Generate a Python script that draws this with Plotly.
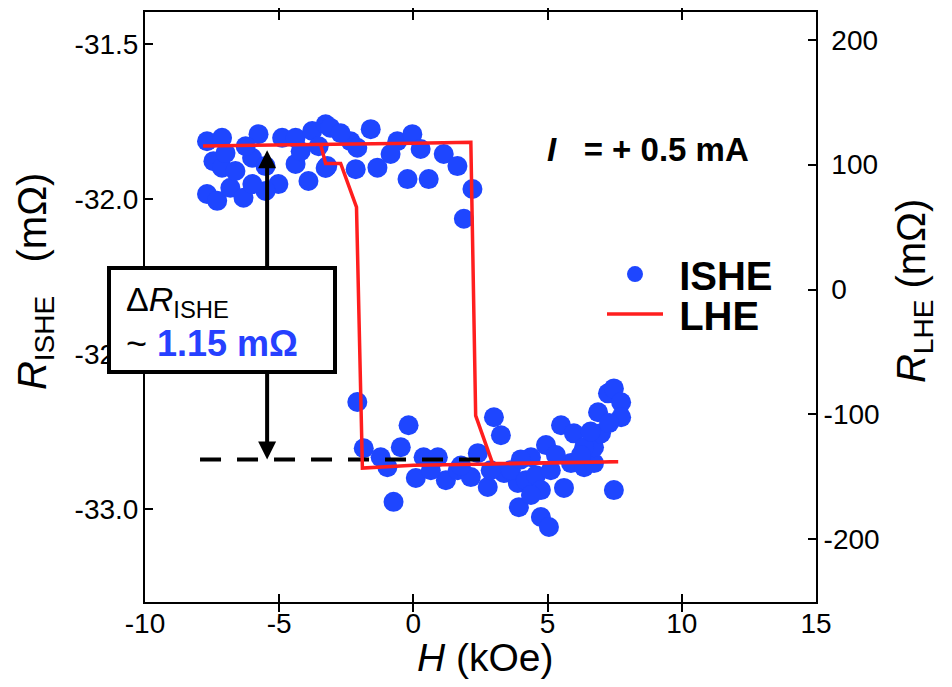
import plotly.graph_objects as go

# ---------------- data ----------------
# ISHE (left axis, mOhm) vs H (kOe)
ishe_h = [-7.69, -7.13, -7.45, -7.13, -7.69, -7.31, -6.82, -6.33, -5.77, -6.01,
          -6.63, -4.89, -4.39, -5.03, -5.51, -4.39, -3.91, -3.77, -3.27, -3.10,
          -1.59, -3.21, -2.34, -2.09, -2.15, -1.34, -0.60, -0.04, 0.27, -0.22,
          0.57, 1.13, 1.64, 2.20, 1.88, -0.85, -2.71, -4.20, -3.53, -3.27,
          -6.25, -5.51, -7.00, -6.00,
          -2.09, -1.85, -1.22, -0.97, -0.47, -0.18, -0.74, 0.09, 0.38, 0.91,
          1.21, 1.65, 2.40, 3.00, 3.26, 2.77, 2.14, 3.37, 3.89, 3.93,
          4.38, 4.75, 5.05, 4.94, 5.50, 5.61, 5.98, 5.87, 6.36, 6.73,
          6.73, 6.99, 6.88, 7.25, 7.47, 7.74, 7.74, 7.29, 7.47, 6.36,
          3.63, 4.19, 4.57, 5.12, 4.00, 2.88, 1.77, 0.65, 5.31, 4.75,
          4.38, 6.24, 6.60]
ishe_r = [-31.814, -31.803, -31.878, -31.899, -31.984, -32.006, -31.964, -31.996, -31.791, -31.867,
          -31.910, -31.803, -31.803, -31.952, -31.974, -31.887, -31.942, -31.781, -31.759, -31.770,
          -31.775, -31.894, -31.814, -31.835, -31.904, -31.899, -31.814, -31.791, -31.839, -31.936,
          -31.936, -31.855, -31.894, -31.968, -32.064, -31.855, -31.788, -31.846, -31.830, -31.900,
          -31.830, -31.894, -31.852, -31.952,
          -32.655, -32.804, -32.833, -32.865, -32.801, -32.730, -32.977, -32.900, -32.833, -32.833,
          -32.907, -32.875, -32.820, -32.704, -32.762, -32.929, -32.897, -32.884, -32.916, -32.994,
          -32.833, -33.026, -33.058, -32.794, -32.730, -32.932, -32.756, -32.852, -32.865, -32.852,
          -32.801, -32.756, -32.688, -32.627, -32.611, -32.656, -32.704, -32.723, -32.939, -32.801,
          -32.875, -32.907, -32.891, -32.875, -32.840, -32.875, -32.860, -32.875, -32.826, -32.939,
          -32.955, -32.826, -32.750]

# LHE (right axis, mOhm) hysteresis loop
lhe_h = [-7.84, -5.0, -3.46, 0.0, 2.14, 2.32, 2.95, 5.0, 7.63,
         5.0, 2.0, 0.0, -1.9, -2.12, -2.71, -3.27, -3.46]
lhe_r = [115.0, 115.6, 116.5, 117.2, 118.0, -101.0, -139.3, -138.6, -138.0,
         -138.6, -139.8, -140.8, -143.0, 66.0, 101.0, 101.0, 116.5]

# reference level (dashed) and arrow
low_level = -32.84
high_level = -31.838
dash_h = [-7.95, 2.6]
arrow_h = -5.45

x_ticks = [-10, -5, 0, 5, 10, 15]
x_ticktext = ["-10", "-5", "0", "5", "10", "15"]
y_ticks = [-31.5, -32.0, -32.5, -33.0]
y_ticktext = ["-31.5", "-32.0", "-32.5", "-33.0"]
y2_ticks = [200, 100, 0, -100, -200]
y2_ticktext = ["\u00a0200", "\u00a0100", "\u00a00", "-100", "-200"]

FONT = "Liberation Sans, Arial, Helvetica, sans-serif"
BLUE = "#1e46ff"
RED = "#ff1e1e"

# page body has an 8px margin: plot area target (page px) 145..816 x 10..602
W, H = 944, 679
L, T = 145 - 8, 10 - 8
R = W - (816 - 8)
B = H - (602 - 8)


def px(xp):
    return (xp - 145) / 671


def py(yp):
    return (602 - yp) / 592


fig = go.Figure()

fig.add_trace(go.Scatter(
    x=ishe_h, y=ishe_r, mode="markers", name="&nbsp;<b>ISHE</b>",
    marker=dict(size=20, color=BLUE, line=dict(width=0)),
    legend="legend", yaxis="y"))

fig.add_trace(go.Scatter(
    x=dash_h, y=[low_level, low_level], mode="lines", showlegend=False,
    line=dict(color="black", width=4, dash="21px,16px"), yaxis="y"))

fig.add_trace(go.Scatter(
    x=lhe_h, y=lhe_r, mode="lines", name="&nbsp;<b>LHE</b>",
    line=dict(color=RED, width=3.5), legend="legend2", yaxis="y2"))

axis_common = dict(showline=True, linecolor="black", linewidth=2,
                   ticks="inside", ticklen=8, tickwidth=2, tickcolor="black",
                   showgrid=False, zeroline=False,
                   tickfont=dict(family=FONT, size=28, color="black"))

fig.update_layout(
    width=W, height=H,
    margin=dict(l=L, r=R, t=T, b=B),
    paper_bgcolor="white", plot_bgcolor="white",
    font=dict(family=FONT, color="black"),
    xaxis=dict(range=[-10, 15], tickvals=x_ticks, ticktext=x_ticktext, mirror="allticks",
               ticklabelstandoff=-5, **axis_common),
    yaxis=dict(range=[-33.3, -31.397], tickvals=y_ticks, ticktext=y_ticktext,
               ticklabelstandoff=-1, **axis_common),
    yaxis2=dict(range=[-250.3, 222.3], tickvals=y2_ticks, ticktext=y2_ticktext,
                overlaying="y", side="right", ticklabelstandoff=0, **axis_common),
    legend=dict(x=px(602), y=py(273), xanchor="left", yanchor="middle",
                font=dict(family=FONT, size=40, color="black"),
                bgcolor="rgba(0,0,0,0)", itemwidth=56),
    legend2=dict(x=px(602), y=py(313), xanchor="left", yanchor="middle",
                 font=dict(family=FONT, size=40, color="black"),
                 bgcolor="rgba(0,0,0,0)", itemwidth=56),
)

ann = []
# double arrow
ann.append(dict(x=arrow_h, y=low_level, ax=arrow_h, ay=high_level,
                xref="x", yref="y", axref="x", ayref="y", text="",
                showarrow=True, arrowside="end+start", arrowhead=2,
                arrowsize=0.9, arrowwidth=4, arrowcolor="black",
                standoff=0, startstandoff=0))
# box
ann.append(dict(x=px(222), y=py(319), xref="paper", yref="paper",
                text=" ", showarrow=False, width=222, height=100,
                bgcolor="white", bordercolor="black", borderwidth=4, borderpad=0,
                xanchor="center", yanchor="middle"))
ann.append(dict(x=px(124), y=py(300), xref="paper", yref="paper",
                text="Δ<i>R</i><sub>ISHE</sub>", showarrow=False,
                font=dict(family=FONT, size=34, color="black"),
                xanchor="left", yanchor="middle"))
ann.append(dict(x=px(124), y=py(343), xref="paper", yref="paper",
                text="~ <b><span style='color:#2640ff'>1.15 mΩ</span></b>", showarrow=False,
                font=dict(family=FONT, size=36, color="black"),
                xanchor="left", yanchor="middle"))
# current label
ann.append(dict(x=px(648), y=py(148), xref="paper", yref="paper",
                text="<b><i>I</i>&nbsp;&nbsp;&nbsp;= + 0.5 mA</b>", showarrow=False,
                font=dict(family=FONT, size=33, color="black"),
                xanchor="center", yanchor="middle"))
# axis titles
ann.append(dict(x=px(485), y=py(658), xref="paper", yref="paper",
                text="<i>H</i> (kOe)", showarrow=False,
                font=dict(family=FONT, size=39, color="black"),
                xanchor="center", yanchor="middle"))
ann.append(dict(x=px(35), y=py(281), xref="paper", yref="paper",
                text="<i>R</i><sub>ISHE</sub>&nbsp;&nbsp;&nbsp;(mΩ)", showarrow=False, textangle=-90,
                font=dict(family=FONT, size=40, color="black"),
                xanchor="center", yanchor="middle"))
ann.append(dict(x=px(914), y=py(290), xref="paper", yref="paper",
                text="<i>R</i><sub>LHE</sub> (mΩ)", showarrow=False, textangle=-90,
                font=dict(family=FONT, size=40, color="black"),
                xanchor="center", yanchor="middle"))
fig.update_layout(annotations=ann)

fig.write_html("out.html")
